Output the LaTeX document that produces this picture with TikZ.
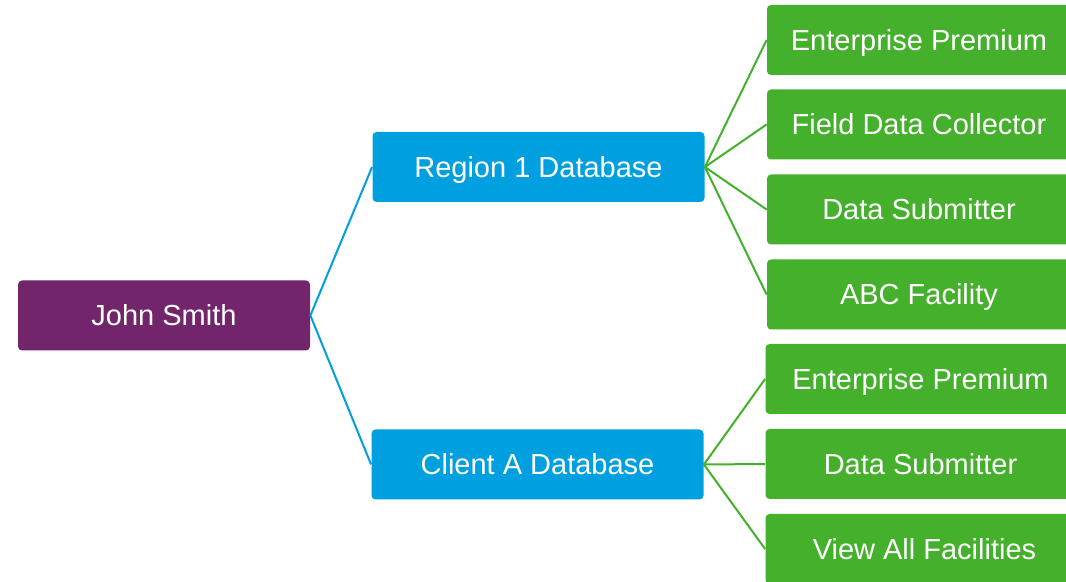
\documentclass[tikz,border=0pt]{standalone}
\usepackage{fontspec}
\setmainfont{Liberation Sans}
\usepackage{xcolor}
\definecolor{personpurple}{HTML}{72256B}
\definecolor{dbblue}{HTML}{00A0E0}
\definecolor{rolegreen}{HTML}{44B02C}

\tikzset{
  card/.style={rectangle, rounded corners=2pt, inner sep=0pt, text=white,
    font=\fontsize{14.5}{17}\selectfont, text height=10.4pt, text depth=0pt,
    minimum height=35pt},
  person/.style={card, fill=personpurple, minimum width=146pt},
  dbase/.style={card, fill=dbblue, minimum width=166pt},
  role/.style={card, fill=rolegreen, minimum width=152pt},
  role2/.style={card, fill=rolegreen, minimum width=155pt},
  blueline/.style={draw=dbblue, line width=1pt},
  greenline/.style={draw=rolegreen, line width=1pt}
}

\begin{document}
\begin{tikzpicture}[x=0.5pt,y=-0.5pt]
				\clip (0,0) rectangle (1066,582);
				\node[person] (john) at (164,315.5) {John Smith};
				\node[dbase] (region) at (538.5,167) {Region 1 Database};
				\node[dbase] (client) at (537.5,464.5) {Client A Database};
				\node[role] (rEP) at (919,40) {Enterprise Premium};
				\node[role] (rFDC) at (919,124.5) {Field Data Collector};
				\node[role] (rDS) at (919,209.5) {Data Submitter};
				\node[role] (rABC) at (919,294.5) {ABC Facility};
				\node[role2] (cEP) at (920.5,379) {Enterprise Premium};
				\node[role2] (cDS) at (920.5,464) {Data Submitter};
				\node[role2] (cVAF) at (920.5,549) {\hspace*{4pt}View All Facilities};
				\draw[blueline] (region.west) -- (john.east) -- (client.west);
				\foreach \r in {rEP, rFDC, rDS, rABC}
					\draw[greenline] (region.east) -- (\r.west);
				\foreach \c in {cEP, cDS, cVAF}
					\draw[greenline] (client.east) -- (\c.west);
			\end{tikzpicture}
\end{document}
